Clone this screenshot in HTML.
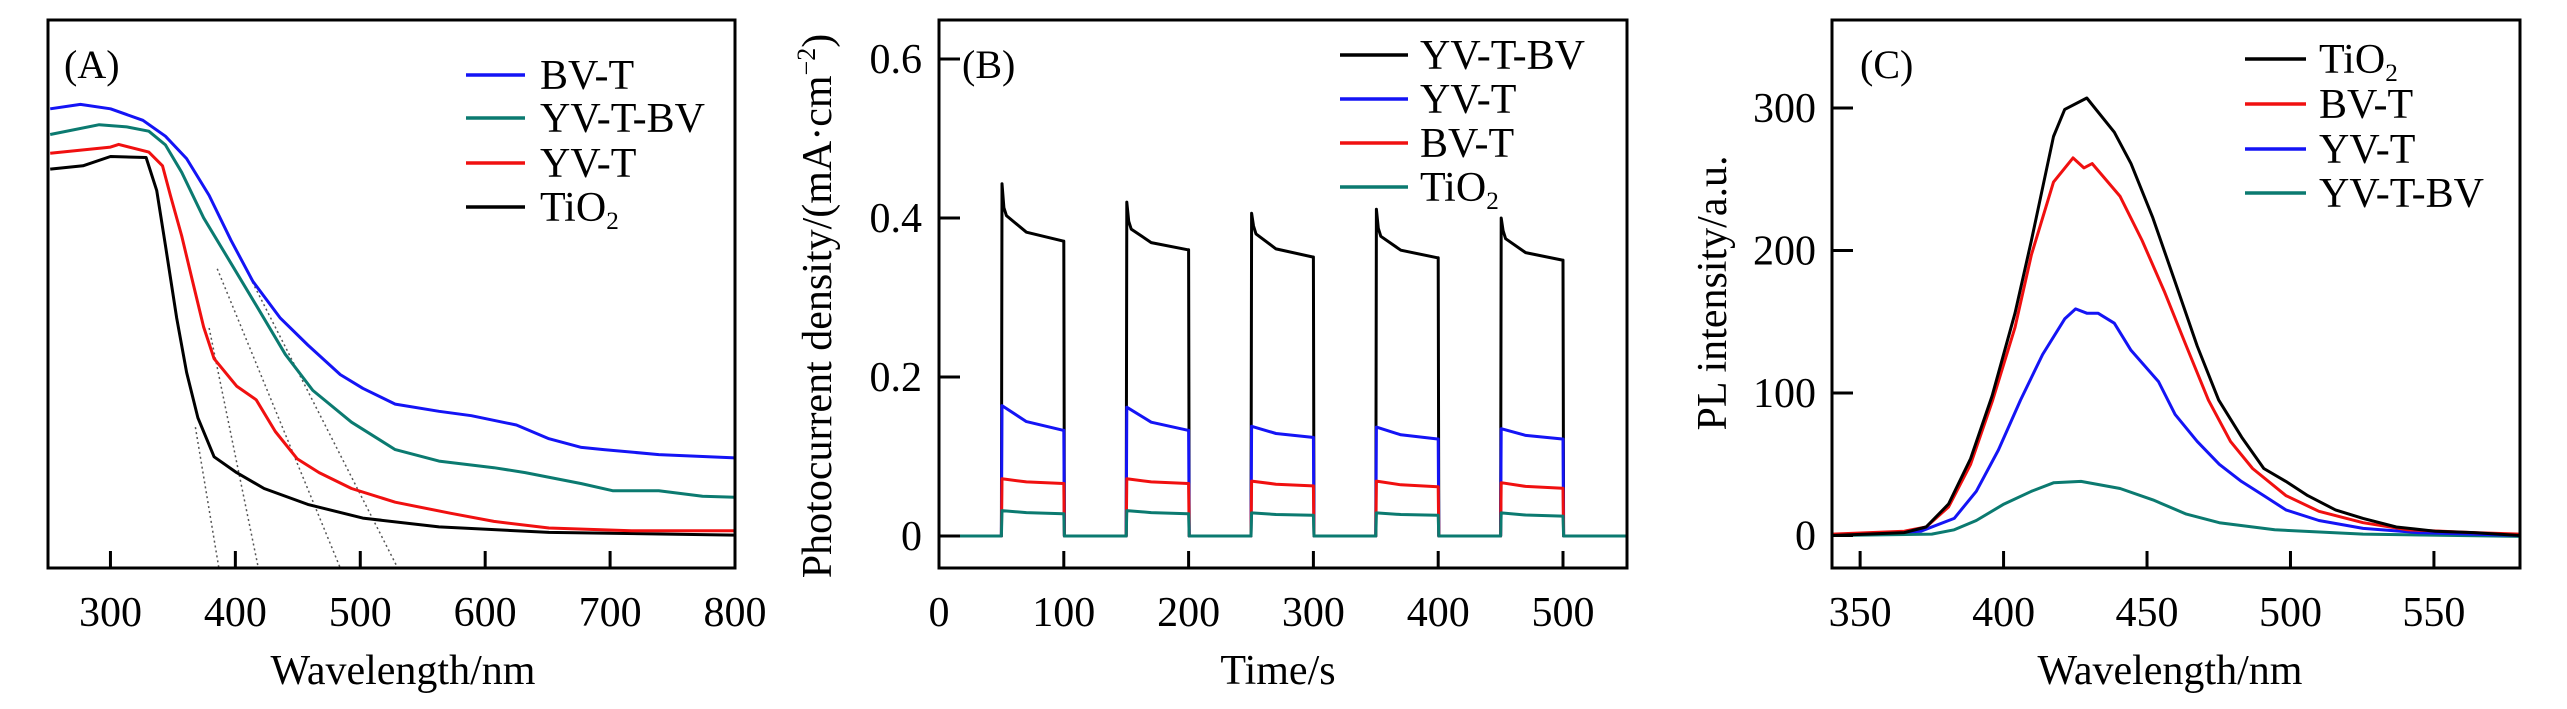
<!DOCTYPE html>
<html><head><meta charset="utf-8"><style>
html,body{margin:0;padding:0;background:#fff}
svg{display:block;font-family:"Liberation Serif",serif}
</style></head><body>
<svg id="fig" width="2567" height="709" viewBox="0 0 2567 709" xmlns="http://www.w3.org/2000/svg">
<g id="gA"></g>
<g id="gB"></g>
<g id="gC"></g>
</svg>
<script>
// ---------- Panel A data ----------
const aBVw=[251.8,275.9,300,326,344,361,379,396.5,414,436,458,484,502,528,563,589,625,651,677,695,739,800];
const aBVv=[.838,.846,.838,.817,.788,.747,.680,.598,.523,.456,.407,.353,.328,.299,.286,.278,.261,.236,.220,.216,.207,.201];
const aYBw=[251.8,291,313,330.7,344,357,374.6,396.5,418.4,440,462,493,528,563,607,632,677,702,739,774,800];
const aYBv=[.791,.809,.805,.797,.772,.722,.639,.556,.473,.390,.324,.266,.216,.195,.183,.174,.154,.141,.141,.131,.129];
const aYVw=[251.8,300,306.6,330.7,341.7,348,357,365.8,374.6,383,401,416.7,432,449.6,467,493,528,572,607,651,717,800];
const aYVv=[.757,.768,.773,.759,.734,.680,.606,.523,.440,.382,.332,.307,.249,.199,.174,.145,.120,.100,.085,.073,.068,.068];
const aTiw=[251.8,278,300,328.5,337,344,353,361,370,383,401,423,458,502,563,651,800];
const aTiv=[.728,.734,.751,.749,.689,.589,.456,.357,.274,.203,.174,.145,.116,.091,.075,.065,.060];
const aTanX1=[368,379,385.5,411.8];
const aTanY1=[.257,.438,.546,.530];
const aTanX2=[386.8,418.4,484,530];
const aXTicks=[300,400,500,600,700,800];
// ---------- Panel B data ----------
const bStarts=[50,150,250,350,450];
const bBVpeak=[0.443,0.42,0.406,0.411,0.40];
const bBVstart=[0.403,0.386,0.380,0.377,0.374];
const bBVend=[0.371,0.360,0.351,0.350,0.347];
const bYVstart=[0.164,0.162,0.138,0.137,0.135];
const bYVend=[0.133,0.133,0.124,0.122,0.122];
const bBTstart=[0.072,0.072,0.069,0.069,0.067];
const bBTend=[0.066,0.066,0.063,0.062,0.060];
const bTistart=[0.032,0.032,0.029,0.029,0.029];
const bTiend=[0.028,0.028,0.026,0.026,0.025];
const bXTicks=[0,100,200,300,400,500];
const bYTicks=[0,0.2,0.4,0.6];
const bYLabels=["0","0.2","0.4","0.6"];
// ---------- Panel C data ----------
const cTiw=[340.4,365.4,373,380.8,388.5,396,404,409.7,417.4,421.3,429,438.6,444.4,452,459.8,467.5,475,483,490.7,498.4,506,515.7,525.3,536.9,550.4,563.9,580];
const cTiv=[0,2,6,22,54,98,156,207,280,299,307,283,261,223,178,133,95,69,47,38,28,18,12,6,3,2,0];
const cBVw=[340.4,365.4,373,380.8,388.5,396.2,404,409.7,417.4,424.2,428,430.9,440.6,448.3,456,463.7,471.4,479.1,486.8,498.4,509.9,525.3,540.8,563.9,580];
const cBVv=[1,3,6,20,50,95,146,197,248,265,258,261,238,207,171.5,133,95,66,47,28,17,9,4,2,1];
const cYVw=[340.4,371.2,382.8,390.5,398.2,405.9,413.6,421.3,425.1,429,432.9,438.6,444.4,454,459.8,467.5,475.2,482.9,490.7,498.4,509.9,525.3,544.6,580];
const cYVv=[0,3,12,31,60,95,127,152,159,156,156,149,130,108,85,66,50,38,28,18,10.5,5,2,0];
const cYBw=[340.4,375,382.8,390.5,400.1,409.7,417.4,427,440.6,452.1,463.7,475.2,494.5,525.3,580];
const cYBv=[0,1,4,10.5,22,31,37,38,33,25,15,9,4,1,-0.6];
const cXTicks=[350,400,450,500,550];
const cYTicks=[0,100,200,300];

const NS="http://www.w3.org/2000/svg";
function mk(parent,tag,attrs){const e=document.createElementNS(NS,tag);for(const k in attrs)e.setAttribute(k,attrs[k]);parent.appendChild(e);return e;}
function lin(d0,d1,r0,r1){return v=>r0+(v-d0)/(d1-d0)*(r1-r0);}
const BL=20,BB=568;
const C_BLUE="#1414f5",C_TEAL="#0b7a70",C_RED="#f01010",C_BLK="#000";

function frame(g,x0,x1){
  const r=mk(g,'rect',{x:x0,y:BL,width:x1-x0,height:BB-BL,fill:'none',stroke:'#000','stroke-width':3});
  
  
}
function poly(g,xs,ys,sx,sy,color,name){
  const pts=xs.map((x,i)=>sx(x).toFixed(1)+','+sy(ys[i]).toFixed(1)).join(' ');
  const p=mk(g,'polyline',{points:pts,fill:'none',stroke:color,'stroke-width':3,'stroke-linejoin':'round'});
  
  
}
function txt(g,x,y,s,size,anchor,name){
  const t=mk(g,'text',{x:x,y:y,'font-size':size,'text-anchor':anchor||'start'});
  t.textContent=s;
  
  
  return t;
}
function tio2(g,x,y,size,name){
  const t=mk(g,'text',{x:x,y:y,'font-size':size});
  
  
  t.appendChild(document.createTextNode('TiO'));
  const s=mk(t,'tspan',{'font-size':size*0.6,dy:8});s.textContent='2';
  return t;
}
function legend(g,x1,x2,tx,rows,items,pre){
  items.forEach((it,i)=>{
    const y=rows[i];
    const l=mk(g,'line',{x1:x1,x2:x2,y1:y,y2:y,stroke:it[1],'stroke-width':3.5});
    
    
    if(it[0]==='TiO2') tio2(g,tx,y+14,42,pre+'-legend-label-tio2');
    else txt(g,tx,y+14,it[0],42,'start',pre+'-legend-label-'+it[0].toLowerCase());
  });
}

// ---------- Panel A ----------
(function(){
  const g=document.getElementById('gA');
  const x0=48,x1=735;
  const sx=lin(250,800,x0,x1), sy=lin(0,1,BB,BL);
  // tangents
  aTanX1.forEach((w,i)=>{
    const l=mk(g,'line',{x1:sx(w),y1:sy(aTanY1[i]),x2:sx(aTanX2[i]),y2:BB,stroke:'#555','stroke-width':1.5,'stroke-dasharray':'2,3'});
    
    
  });
  poly(g,aTiw,aTiv,sx,sy,C_BLK,'tio2-curve');
  poly(g,aYVw,aYVv,sx,sy,C_RED,'yv-t-curve');
  poly(g,aYBw,aYBv,sx,sy,C_TEAL,'yv-t-bv-curve');
  poly(g,aBVw,aBVv,sx,sy,C_BLUE,'bv-t-curve');
  frame(g,x0,x1);
  aXTicks.forEach(v=>{
    const l=mk(g,'line',{x1:sx(v),x2:sx(v),y1:BB,y2:BB-17,stroke:'#000','stroke-width':3});
    
    
    txt(g,sx(v),626,String(v),42,'middle','x-tick-label');
  });
  txt(g,403,684,'Wavelength/nm',42,'middle','x-axis-title');
  txt(g,64,78,'(A)',40,'start','panel-label');
  legend(g,466,525,540,[75,118,163,207],[['BV-T',C_BLUE],['YV-T-BV',C_TEAL],['YV-T',C_RED],['TiO2',C_BLK]],'a');
})();

// ---------- Panel B ----------
(function(){
  const g=document.getElementById('gB');
  const x0=939,x1=1627;
  const sx=lin(0,500,x0,1563), sy=lin(0,0.6,536,59);
  function series(vs,ve,peak,color,name){
    const xs=[],ys=[];
    xs.push(0);ys.push(0);
    bStarts.forEach((s,i)=>{
      xs.push(s,s+0.5);ys.push(0,peak?peak[i]:vs[i]);
      if(peak){xs.push(s+2,s+4);ys.push(vs[i]+0.01,vs[i]);}
      xs.push(s+20,s+49.5,s+50,s+50.5);
      ys.push(ve[i]+(vs[i]-ve[i])*0.35,ve[i],ve[i],0);
    });
    xs.push(551);ys.push(0);
    poly(g,xs,ys,sx,sy,color,name);
  }
  series(bBVstart,bBVend,bBVpeak,C_BLK,'yv-t-bv-curve');
  series(bYVstart,bYVend,null,C_BLUE,'yv-t-curve');
  series(bBTstart,bBTend,null,C_RED,'bv-t-curve');
  series(bTistart,bTiend,null,C_TEAL,'tio2-curve');
  frame(g,x0,x1);
  bXTicks.forEach(v=>{
    if(v>0){const l=mk(g,'line',{x1:sx(v),x2:sx(v),y1:BB,y2:BB-17,stroke:'#000','stroke-width':3});
    
    }
    txt(g,sx(v),626,String(v),42,'middle','x-tick-label');
  });
  bYTicks.forEach((v,i)=>{
    const l=mk(g,'line',{x1:x0,x2:x0+21,y1:sy(v),y2:sy(v),stroke:'#000','stroke-width':3});
    
    
    txt(g,922,sy(v)+14,bYLabels[i],42,'end','y-tick-label');
  });
  txt(g,1278,684,'Time/s',42,'middle','x-axis-title');
  const t=txt(g,0,0,'Photocurrent density/(mA·cm',42,'middle','y-axis-title');
  t.setAttribute('transform','translate(831,306) rotate(-90)');
  const s=mk(t,'tspan',{'font-size':26,dy:-16});s.textContent='−2';
  const s2=mk(t,'tspan',{dy:16});s2.textContent=')';
  txt(g,962,78,'(B)',40,'start','panel-label');
  legend(g,1340,1408,1420,[55,99,143,187],[['YV-T-BV',C_BLK],['YV-T',C_BLUE],['BV-T',C_RED],['TiO2',C_TEAL]],'b');
})();

// ---------- Panel C ----------
(function(){
  const g=document.getElementById('gC');
  const x0=1832,x1=2520;
  const sx=lin(340.2,580,x0,x1), sy=lin(0,300,535.5,108);
  poly(g,cYBw,cYBv,sx,sy,C_TEAL,'yv-t-bv-curve');
  poly(g,cYVw,cYVv,sx,sy,C_BLUE,'yv-t-curve');
  poly(g,cBVw,cBVv,sx,sy,C_RED,'bv-t-curve');
  poly(g,cTiw,cTiv,sx,sy,C_BLK,'tio2-curve');
  frame(g,x0,x1);
  cXTicks.forEach(v=>{
    const l=mk(g,'line',{x1:sx(v),x2:sx(v),y1:BB,y2:BB-17,stroke:'#000','stroke-width':3});
    
    
    txt(g,sx(v),626,String(v),42,'middle','x-tick-label');
  });
  cYTicks.forEach(v=>{
    const l=mk(g,'line',{x1:x0,x2:x0+21,y1:sy(v),y2:sy(v),stroke:'#000','stroke-width':3});
    
    
    txt(g,1816,sy(v)+14,String(v),42,'end','y-tick-label');
  });
  txt(g,2170,684,'Wavelength/nm',42,'middle','x-axis-title');
  const t=txt(g,0,0,'PL intensity/a.u.',42,'middle','y-axis-title');
  t.setAttribute('transform','translate(1726,293) rotate(-90)');
  txt(g,1860,78,'(C)',40,'start','panel-label');
  legend(g,2245,2306,2319,[59,104,149,193],[['TiO2',C_BLK],['BV-T',C_RED],['YV-T',C_BLUE],['YV-T-BV',C_TEAL]],'c');
})();
</script>
</body></html>
